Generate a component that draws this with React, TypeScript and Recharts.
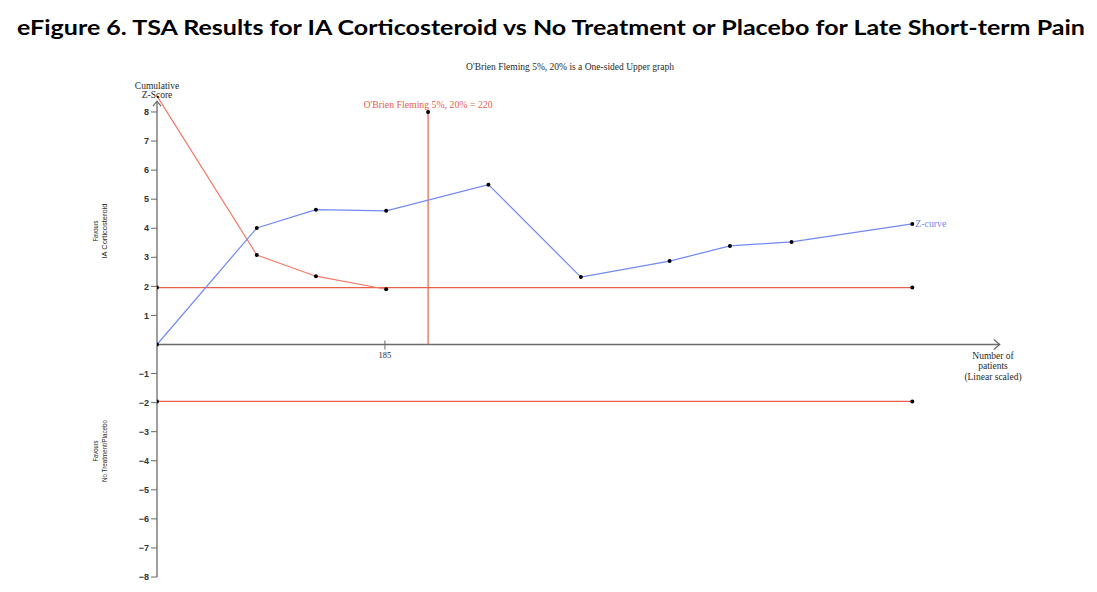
import React from 'react';
import { ComposedChart, Line, XAxis, YAxis, ReferenceLine, ReferenceDot } from 'recharts';

const zCurvePatients = [0, 81, 129, 186, 269, 344, 416, 465, 515, 613];
const zCurveScores = [0, 4.01, 4.64, 4.6, 5.5, 2.32, 2.87, 3.39, 3.53, 4.15];
const boundaryPatients = [0, 81, 129, 186];
const boundaryScores = [8.55, 3.08, 2.35, 1.9];
const conventionalPatients = [0, 613];
const upperConventional = [1.96, 1.96];
const lowerConventional = [-1.96, -1.96];
const requiredInformationSize = 220;
const requiredTop = 8.0;
const yTicks = [-8, -7, -6, -5, -4, -3, -2, -1, 1, 2, 3, 4, 5, 6, 7, 8];
const xTicks = [185];
const xMax = 685;
const yMin = -8;
const yMax = 8.55;

const zData = zCurvePatients.map((x, i) => ({ x, y: zCurveScores[i] }));
const boundaryData = boundaryPatients.map((x, i) => ({ x, y: boundaryScores[i] }));
const upperData = conventionalPatients.map((x, i) => ({ x, y: upperConventional[i] }));
const lowerData = conventionalPatients.map((x, i) => ({ x, y: lowerConventional[i] }));
const risData = [
  { x: requiredInformationSize, y: 0 },
  { x: requiredInformationSize, y: requiredTop },
];

const BLUE = '#7189f2';
const RED_CURVE = '#f27a67';
const RED_LINE = '#e8604c';
const AXIS = '#6a6a6a';
const SERIF = '"Liberation Serif", "DejaVu Serif", serif';
const SANS = '"Liberation Sans", Arial, sans-serif';
const TXT = '#2a2a2a';

const dot = { r: 2, fill: '#000', stroke: '#000', strokeWidth: 0 };

const fmt = (v: number) => (v < 0 ? '\u2212' + Math.abs(v) : String(v));

export default function App() {
  return (
    <div style={{ position: 'absolute', left: 0, top: 0, width: 1097, height: 592, background: '#fff' }}>
      <ComposedChart
        width={1097}
        height={592}
        margin={{ top: 96, right: 96, bottom: 15, left: 117 }}
      >
        <XAxis dataKey="x" type="number" domain={[0, xMax]} hide allowDataOverflow />
        <YAxis
          type="number"
          domain={[yMin, yMax]}
          ticks={yTicks}
          width={40}
          axisLine={false}
          tickLine={{ stroke: AXIS, strokeWidth: 1 }}
          tickSize={6}
          tickFormatter={fmt}
          tick={{ fontSize: 9, fill: '#333', fontFamily: SANS, fontWeight: 'bold' }}
          allowDataOverflow
          interval={0}
        />
        <ReferenceLine segment={[{ x: 0, y: yMin }, { x: 0, y: 8.37 }]} stroke={AXIS} strokeWidth={1.3} />
        <ReferenceLine segment={[{ x: 0, y: 0 }, { x: xMax - 1, y: 0 }]} stroke={AXIS} strokeWidth={1.3} />
        <ReferenceDot
          x={0}
          y={8.37}
          r={0}
          shape={(p: any) => (
            <path d={`M${p.cx - 4},${p.cy + 5} L${p.cx},${p.cy} L${p.cx + 4},${p.cy + 5}`} fill="none" stroke={AXIS} strokeWidth={1.2} />
          )}
        />
        <ReferenceDot
          x={xMax - 1}
          y={0}
          r={0}
          shape={(p: any) => (
            <path d={`M${p.cx - 6},${p.cy - 5} L${p.cx},${p.cy} L${p.cx - 6},${p.cy + 5}`} fill="none" stroke={AXIS} strokeWidth={1.2} />
          )}
        />
        {xTicks.map((t) => (
          <ReferenceDot
            key={t}
            x={t}
            y={0}
            r={0}
            shape={(p: any) => (
              <g>
                <line x1={p.cx} y1={p.cy - 4} x2={p.cx} y2={p.cy + 5} stroke={AXIS} strokeWidth={1} />
                <text x={p.cx} y={p.cy + 14} textAnchor="middle" fontSize={8.5} fontFamily={SERIF} fill={TXT}>{t}</text>
              </g>
            )}
          />
        ))}
        <Line data={upperData} dataKey="y" stroke={RED_LINE} strokeWidth={1.2} dot={dot} isAnimationActive={false} />
        <Line data={lowerData} dataKey="y" stroke={RED_LINE} strokeWidth={1.2} dot={dot} isAnimationActive={false} />
        <Line data={risData} dataKey="y" stroke={RED_LINE} strokeWidth={1.2} dot={false} isAnimationActive={false} />
        <Line data={boundaryData} dataKey="y" stroke={RED_CURVE} strokeWidth={1.2} dot={dot} isAnimationActive={false} />
        <Line data={zData} dataKey="y" stroke={BLUE} strokeWidth={1.2} dot={dot} isAnimationActive={false} />
        <ReferenceDot
          x={requiredInformationSize}
          y={requiredTop}
          r={0}
          shape={(p: any) => (
            <g>
              <circle cx={p.cx} cy={p.cy} r={2} fill="#000" />
              <text x={p.cx} y={p.cy - 4} textAnchor="middle" fontSize={9.8} fontFamily={SERIF} fill={RED_LINE}>
                {"O'Brien Fleming 5%, 20% = " + requiredInformationSize}
              </text>
            </g>
          )}
        />
        <ReferenceDot
          x={zCurvePatients[zCurvePatients.length - 1]}
          y={zCurveScores[zCurveScores.length - 1]}
          r={0}
          shape={(p: any) => (
            <text x={p.cx + 3} y={p.cy + 3} fontSize={9.8} fontFamily={SERIF} fill={BLUE}>Z-curve</text>
          )}
        />
      </ComposedChart>
      <svg
        width={1097}
        height={592}
        style={{ position: 'absolute', left: 0, top: 0, pointerEvents: 'none' }}
      >
        <text x={17} y={35} fontSize={21} fontWeight="bold" fontFamily='Lato, "Open Sans", sans-serif' fill="#000" textLength={1068} lengthAdjust="spacingAndGlyphs">
          eFigure 6. TSA Results for IA Corticosteroid vs No Treatment or Placebo for Late Short-term Pain
        </text>
        <text x={570} y={70} textAnchor="middle" fontSize={9.5} fontFamily={SERIF} fill={TXT}>
          O'Brien Fleming 5%, 20% is a One-sided Upper graph
        </text>
        <text x={157} y={89} textAnchor="middle" fontSize={9.5} fontFamily={SERIF} fill={TXT}>Cumulative</text>
        <text x={157} y={98} textAnchor="middle" fontSize={9.5} fontFamily={SERIF} fill={TXT}>Z-Score</text>
        <text x={993} y={359} textAnchor="middle" fontSize={9.5} fontFamily={SERIF} fill={TXT}>Number of</text>
        <text x={993} y={369} textAnchor="middle" fontSize={9.5} fontFamily={SERIF} fill={TXT}>patients</text>
        <text x={993} y={380} textAnchor="middle" fontSize={9.5} fontFamily={SERIF} fill={TXT}>(Linear scaled)</text>
        <g transform="translate(98,231) rotate(-90)">
          <text x={0} y={0} textAnchor="middle" fontSize={8} fontFamily={SANS} fill={TXT} textLength={21} lengthAdjust="spacingAndGlyphs">Favours</text>
          <text x={0} y={8.5} textAnchor="middle" fontSize={8} fontFamily={SANS} fill={TXT} textLength={55} lengthAdjust="spacingAndGlyphs">IA Corticosteroid</text>
        </g>
        <g transform="translate(98,451) rotate(-90)">
          <text x={0} y={0} textAnchor="middle" fontSize={8} fontFamily={SANS} fill={TXT} textLength={21} lengthAdjust="spacingAndGlyphs">Favours</text>
          <text x={0} y={8.5} textAnchor="middle" fontSize={8} fontFamily={SANS} fill={TXT} textLength={62} lengthAdjust="spacingAndGlyphs">No Treatment/Placebo</text>
        </g>
      </svg>
    </div>
  );
}
